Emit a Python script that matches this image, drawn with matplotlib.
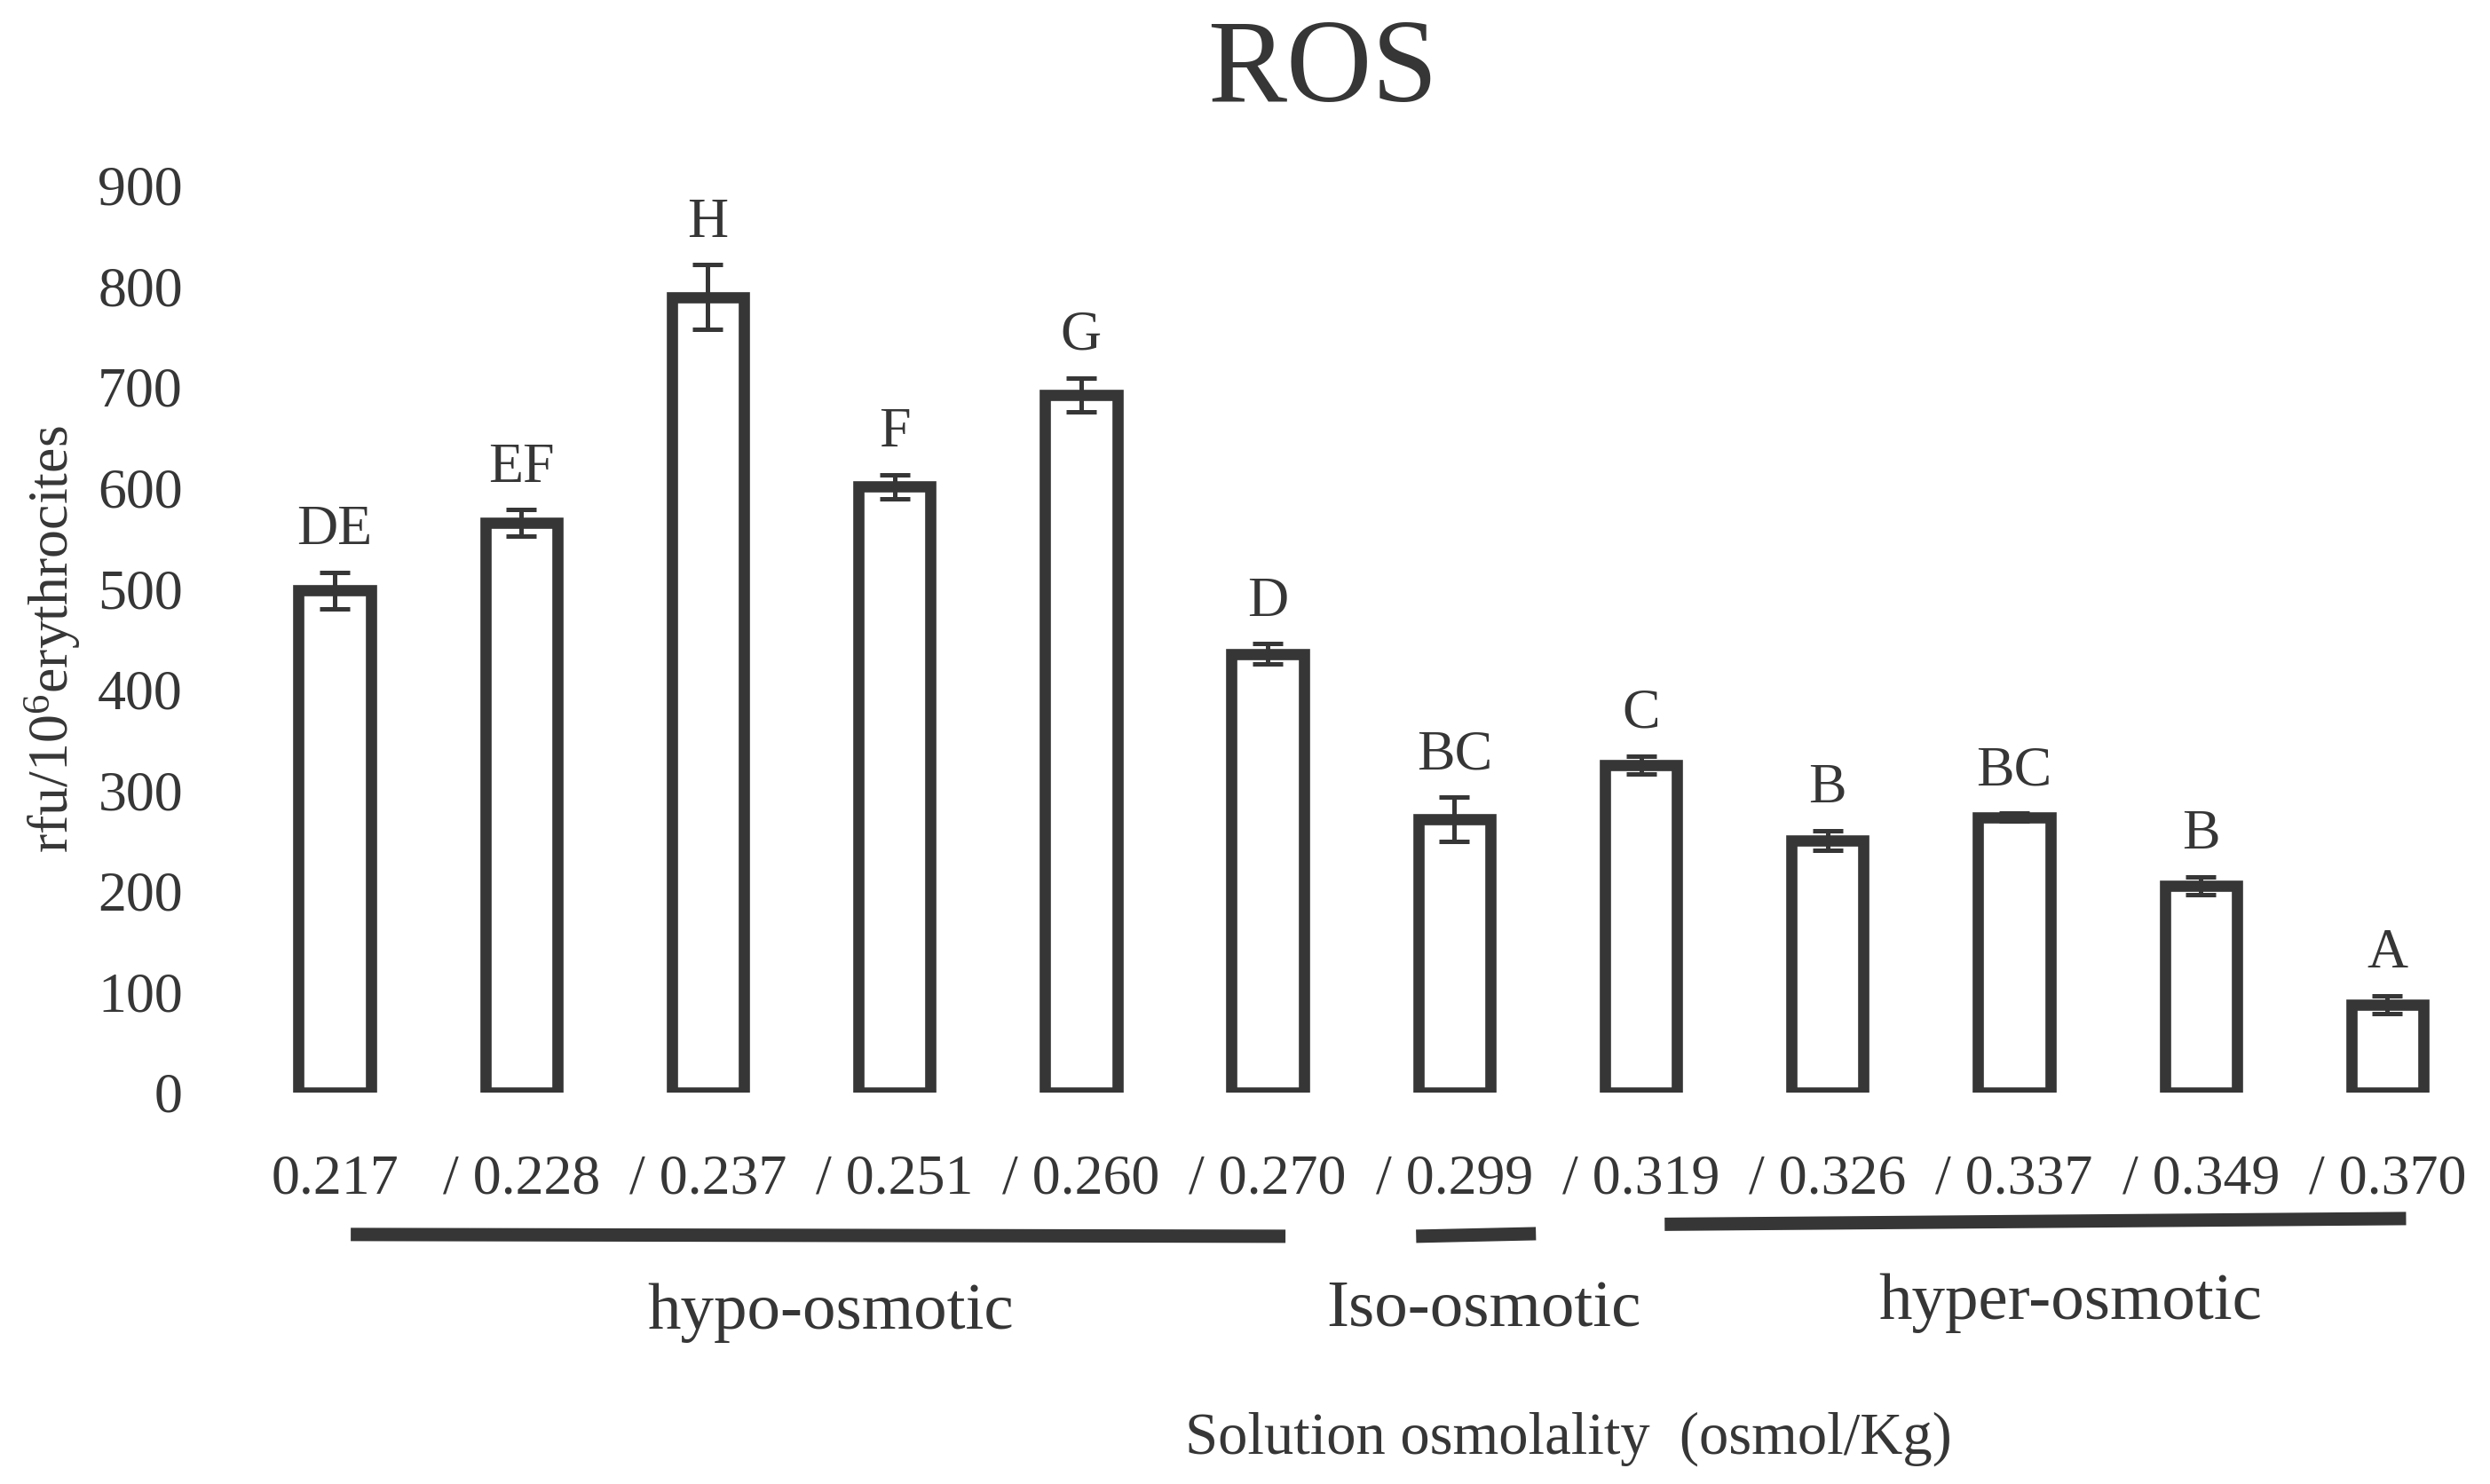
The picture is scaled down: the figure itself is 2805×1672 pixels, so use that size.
import matplotlib
matplotlib.use("Agg")
import matplotlib.pyplot as plt
import numpy as np

# ---- data ----
osmolality_labels = ["0.217", "/ 0.228", "/ 0.237", "/ 0.251", "/ 0.260", "/ 0.270",
                     "/ 0.299", "/ 0.319", "/ 0.326", "/ 0.337", "/ 0.349", "/ 0.370"]
ros_values = [498, 565, 789, 601, 692, 435, 271, 325, 250, 273, 205, 87]
ros_errors = [18, 13, 32, 12, 17, 10, 22, 9, 10, 4, 9, 9]
letters = ["DE", "EF", "H", "F", "G", "D", "BC", "C", "B", "BC", "B", "A"]
group_names = ["hypo-osmotic", "Iso-osmotic", "hyper-osmotic"]

C = "#363636"
plt.rcParams["font.family"] = ["Liberation Serif", "DejaVu Serif"]
plt.rcParams["mathtext.fontset"] = "custom"
plt.rcParams["mathtext.rm"] = "Liberation Serif"
plt.rcParams["mathtext.it"] = "Liberation Serif"
plt.rcParams["mathtext.bf"] = "Liberation Serif"
plt.rcParams["text.color"] = C

fig = plt.figure(figsize=(28.05, 16.72), dpi=100)
ax = fig.add_axes([0.07986, 0.2638, 0.90517, 0.6114])

x = np.arange(len(ros_values))
ax.bar(x, ros_values, width=0.387, facecolor="white", edgecolor=C,
       linewidth=9.1, zorder=2)
ax.errorbar(x, ros_values, yerr=ros_errors, fmt="none", ecolor=C,
            elinewidth=3.6, capsize=12, capthick=3.6, zorder=3)

for xi, v, e, t in zip(x, ros_values, ros_errors, letters):
    ax.text(xi, v + e + 28, t, ha="center", va="baseline", fontsize=46, color=C)

ax.set_xlim(-0.728, 11.35)
ax.set_ylim(0, 900)
ax.set_yticks(np.arange(0, 901, 100))
ax.set_xticks(x)
ax.set_xticklabels(osmolality_labels)
ax.tick_params(axis="x", length=0, pad=50, labelsize=46, labelcolor=C)
ax.tick_params(axis="y", length=0, pad=13, labelsize=46, labelcolor=C)
for s in ax.spines.values():
    s.set_visible(False)

# group bracket lines (data x, data y below axis)
spans = [((0.086, 5.095), (-140.8, -142.6)),
         ((5.795, 6.437), (-142.6, -140.0)),
         ((7.127, 11.10), (-130.7, -125.0))]
for (xs, ys) in spans:
    ax.plot(xs, ys, color=C, linewidth=10.8, solid_capstyle="butt", clip_on=False)

group_pos = [(2.655, -234), (6.156, -232), (9.30, -225)]
for name, (gx, gy) in zip(group_names, group_pos):
    ax.text(gx, gy, name, ha="center", va="baseline", fontsize=54, color=C,
            clip_on=False)

ax.text(6.61, -358, "Solution osmolality  (osmol/Kg)", ha="center", va="baseline",
        fontsize=48, color=C, clip_on=False)

fig.text(0.021, 0.569, r"rfu/10$^{6}$erythrocites", rotation=90, ha="center",
         va="center", fontsize=46, color=C)
fig.text(0.5312, 0.9318, "ROS", ha="center", va="baseline", fontsize=96, color=C)

fig.savefig("out.png", dpi=100, facecolor="white")
